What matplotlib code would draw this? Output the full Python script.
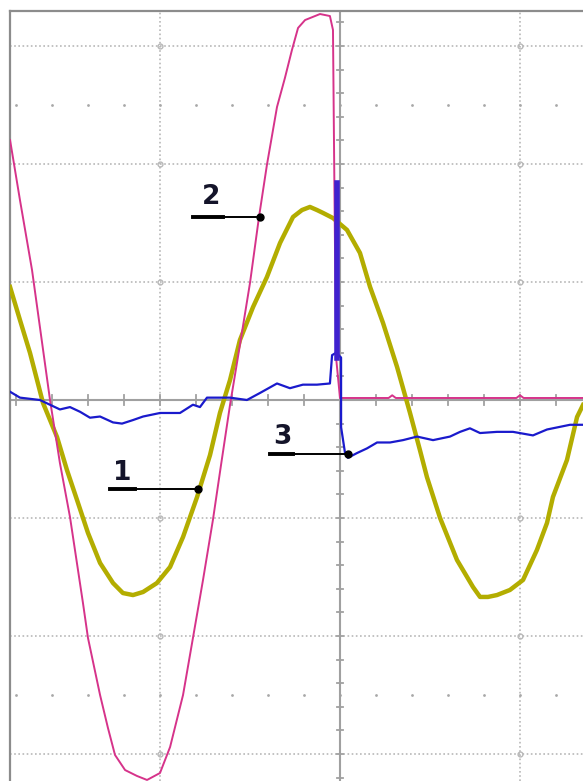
import numpy as np
import matplotlib.pyplot as plt

# traces, in divisions (x: time div, y: volt div)
t_curr = [-1.833, -1.778, -1.711, -1.661, -1.611, -1.556, -1.5, -1.428, -1.4, -1.333,
          -1.289, -1.25, -1.194, -1.128, -1.072, -1.0, -0.944, -0.872, -0.817, -0.761,
          -0.706, -0.661, -0.611, -0.556, -0.5, -0.45, -0.406, -0.35, -0.306, -0.267,
          -0.233, -0.194, -0.111, -0.056, -0.039, -0.033, -0.022, 0.0, 0.2, 0.27,
          0.29, 0.31, 0.6, 0.98, 1.0, 1.02, 1.35]
curr = [2.203, 1.695, 1.102, 0.551, 0.0, -0.534, -0.992, -1.720, -2.017, -2.5,
        -2.780, -3.008, -3.136, -3.186, -3.220, -3.161, -2.941, -2.5, -2.017, -1.525,
        -1.017, -0.551, -0.042, 0.466, 0.992, 1.551, 1.992, 2.483, 2.729, 2.966,
        3.153, 3.220, 3.271, 3.254, 3.136, 2.119, 0.364, 0.017, 0.017, 0.017,
        0.04, 0.017, 0.017, 0.017, 0.04, 0.017, 0.017]

t_volt = [-1.833, -1.778, -1.722, -1.650, -1.572, -1.517, -1.461, -1.400, -1.333, -1.261,
          -1.206, -1.150, -1.094, -1.017, -0.944, -0.872, -0.794, -0.722, -0.667, -0.611,
          -0.556, -0.483, -0.406, -0.333, -0.261, -0.211, -0.167, -0.128, -0.094, -0.039,
          0.039, 0.111, 0.167, 0.239, 0.317, 0.389, 0.444, 0.483, 0.556, 0.650,
          0.706, 0.739, 0.778, 0.822, 0.872, 0.944, 1.017, 1.094, 1.150, 1.183,
          1.261, 1.317, 1.35]
volt = [0.958, 0.678, 0.398, -0.025, -0.314, -0.593, -0.847, -1.127, -1.381, -1.551,
        -1.636, -1.653, -1.627, -1.551, -1.415, -1.161, -0.822, -0.466, -0.110, 0.169,
        0.508, 0.788, 1.042, 1.331, 1.551, 1.610, 1.636, 1.610, 1.585, 1.542,
        1.441, 1.246, 0.958, 0.653, 0.280, -0.110, -0.424, -0.653, -1.0, -1.356,
        -1.5, -1.585, -1.669, -1.669, -1.653, -1.610, -1.525, -1.271, -1.042, -0.822,
        -0.508, -0.144, -0.042]

t_arc = [-1.833, -1.778, -1.667, -1.556, -1.5, -1.444, -1.389, -1.333, -1.261, -1.211,
         -1.15, -1.094, -1.0, -0.889, -0.817, -0.778, -0.739, -0.611, -0.517, -0.444,
         -0.35, -0.278, -0.206, -0.128, -0.056, -0.044, -0.022, 0.006, 0.006, 0.028,
         0.044, 0.094, 0.15, 0.206, 0.278, 0.35, 0.428, 0.517, 0.611, 0.667,
         0.722, 0.778, 0.872, 0.961, 1.072, 1.15, 1.278, 1.35]
arc = [0.07, 0.02, 0.0, -0.08, -0.06, -0.10, -0.15, -0.14, -0.19, -0.20,
       -0.17, -0.14, -0.11, -0.11, -0.04, -0.06, 0.02, 0.02, 0.0, 0.06,
       0.14, 0.10, 0.13, 0.13, 0.14, 0.38, 0.40, 0.36, -0.23, -0.45,
       -0.49, -0.45, -0.41, -0.36, -0.36, -0.34, -0.31, -0.34, -0.31, -0.27,
       -0.24, -0.28, -0.27, -0.27, -0.30, -0.25, -0.21, -0.21]
spike_t = -0.019
spike = [0.36, 1.84]

labels = ['1', '2', '3']

W, H = 583, 781
fig = plt.figure(figsize=(W / 100, H / 100), dpi=100)
ax = fig.add_axes([10 / W, 0, 1 - 10 / W, 1 - 11 / H])
ax.set_xlim(-1.8333, 1.35)
ax.set_ylim(-3.2288, 3.2966)
ax.set_xticks([])
ax.set_yticks([])
for s in ['right', 'bottom']:
    ax.spines[s].set_visible(False)
for s in ['left', 'top']:
    ax.spines[s].set_color('#8c8c8c')
    ax.spines[s].set_linewidth(1.6)

# scope graticule
gc = '#b8b8b8'
for gx in [-1, 1]:
    ax.axvline(gx, color=gc, lw=1.2, ls=(0, (1, 1.5)), zorder=1)
for gy in [-3, -2, -1, 1, 2, 3]:
    ax.axhline(gy, color=gc, lw=1.2, ls=(0, (1, 1.5)), zorder=1)
gxx, gyy = np.meshgrid([-1, 1], [-3, -2, -1, 1, 2, 3])
ax.plot(gxx.ravel(), gyy.ravel(), 'o', ms=3.5, mfc='none', mec=gc, mew=1, zorder=1)
minor = np.arange(-9, 7) * 0.2
for gy in [-2.5, 2.5]:
    ax.plot(minor, np.full(len(minor), gy), 'o', ms=2, color='#a8a8a8', mew=0, zorder=1)
ax.axhline(0, color='#a0a0a0', lw=1.5, zorder=1)
ax.axvline(0, color='#a0a0a0', lw=1.5, zorder=1)
for mx in minor:
    ax.plot([mx, mx], [-0.04, 0.04], color='#a0a0a0', lw=1.3, zorder=1)
for my in np.arange(-16, 17) * 0.2:
    ax.plot([-0.018, 0.018], [my, my], color='#a0a0a0', lw=1.3, zorder=1)

ax.plot(t_volt, volt, color='#b3ad00', lw=3.2, solid_joinstyle='round', zorder=3)
ax.plot(t_curr, curr, color='#d6338a', lw=1.4, zorder=4)
ax.plot(t_arc, arc, color='#1a1acc', lw=1.6, zorder=5)
ax.plot([spike_t, spike_t], spike, color='#3f22cf', lw=4, zorder=5)

# trace callouts
txt_pos = [(-1.211, -0.62), (-0.717, 1.72), (-0.322, -0.31)]
line_pos = [(-1.278, -1.139, -0.787, -0.75), (-0.817, -0.65, -0.445, 1.55),
            (-0.389, -0.261, 0.044, -0.46)]
for lab, (tx, ty), (x0, x1, x2, yl) in zip(labels, txt_pos, line_pos):
    ax.text(tx, ty, lab, ha='center', va='center', fontsize=19,
            fontweight='bold', color='#14142a', zorder=6)
    ax.plot([x0, x1], [yl, yl], color='black', lw=2.8, zorder=6)
    ax.plot([x1, x2], [yl, yl], color='black', lw=1.4, zorder=6)
    ax.plot(x2, yl, 'o', color='black', ms=5, zorder=6)

plt.savefig('out.png', dpi=100)
